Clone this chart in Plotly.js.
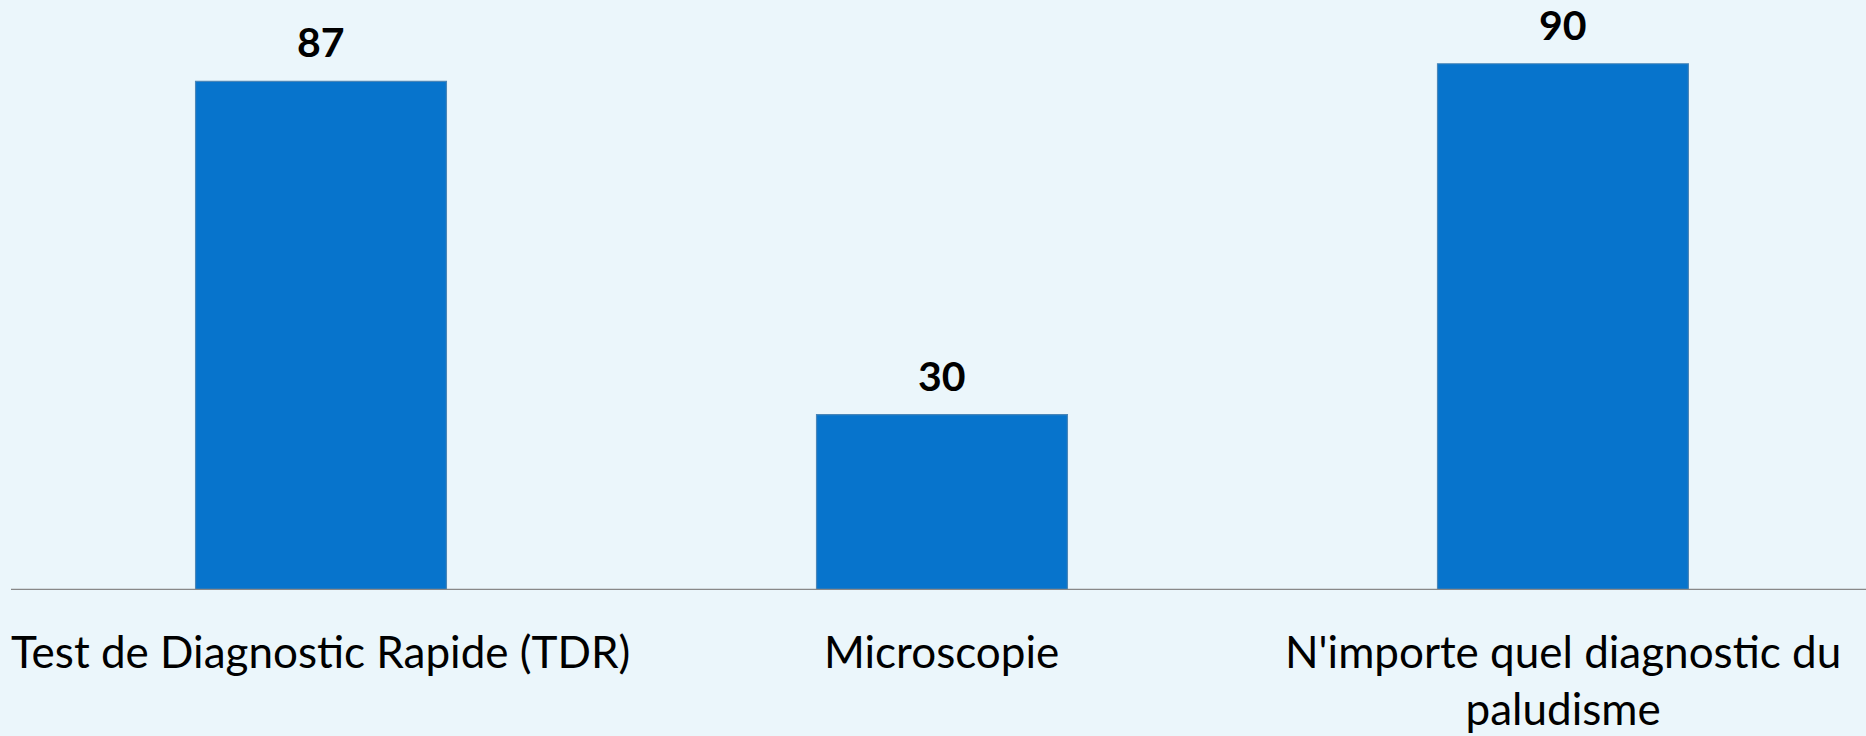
<!DOCTYPE html>
<html>
<head>
<meta charset="utf-8">
<script src="https://cdn.plot.ly/plotly-3.0.1.min.js"></script>
<style>
html,body{margin:0;padding:0;background:#ebf6fb;}
#chart{width:1866px;height:736px;}
</style>
</head>
<body>
<div id="chart"></div>
<script>
const categories = ['Test de Diagnostic Rapide (TDR)', 'Microscopie', "N'importe quel diagnostic du<br>paludisme"];
const values = [87, 30, 90];

const trace = {
  type: 'bar',
  x: [0, 1, 2],
  y: values,
  width: 0.404,
  marker: {color: '#0774cc', line: {color: '#4a86b8', width: 1.2}},
  hoverinfo: 'skip'
};

const annotations = [];
values.forEach((v, i) => {
  annotations.push({
    x: i, y: v, xref: 'x', yref: 'y', text: String(v), showarrow: false,
    yanchor: 'bottom', yshift: 13,
    font: {family: 'Lato, Open Sans, sans-serif', size: 41, color: '#000', weight: 'bold'}
  });
  annotations.push({
    x: i, y: 0, xref: 'x', yref: 'y', text: categories[i], showarrow: false,
    yanchor: 'top', yshift: -33,
    font: {family: 'Lato, Open Sans, sans-serif', size: 44, color: '#000'}
  });
});

const layout = {
  width: 1866, height: 736,
  margin: {l: 11, r: 0, t: 0, b: 146},
  paper_bgcolor: '#ebf6fb', plot_bgcolor: '#ebf6fb',
  showlegend: false,
  xaxis: {range: [-0.4992, 2.488], showticklabels: false, showgrid: false, zeroline: false,
          showline: false, ticks: ''},
  yaxis: {range: [0, 100.9], visible: false, showgrid: false, zeroline: false},
  shapes: [{type: 'line', xref: 'paper', yref: 'y', x0: 0, x1: 1, y0: 0, y1: 0,
            line: {color: '#888888', width: 2.5}}],
  annotations: annotations
};

Plotly.newPlot('chart', [trace], layout, {displayModeBar: false, staticPlot: true});
</script>
</body>
</html>
